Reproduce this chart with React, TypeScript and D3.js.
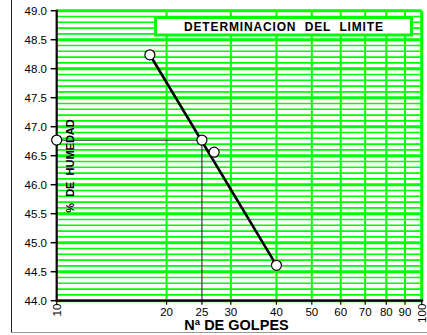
import React from "react";
import * as d3 from "d3";

// Flow test: blows vs. moisture content
const blows = [18, 27, 40];
const moisture = [48.24, 46.56, 44.61];
// Flow line endpoints
const flowBlows = [18, 40];
const flowMoisture = [48.24, 44.61];
// Liquid limit read at 25 blows
const llBlows = 25;
const llMoisture = 46.77;

const xTickValues = [10, 20, 25, 30, 40, 50, 60, 70, 80, 90, 100];
const xRotatedTicks = [10, 100];
const xGridValues = [20, 30, 40, 50, 60, 70, 80, 90];
const yTickValues = [44.0, 44.5, 45.0, 45.5, 46.0, 46.5, 47.0, 47.5, 48.0, 48.5, 49.0];

const W = 427;
const H = 335;
const left = 56.7;
const right = 421.7;
const top = 10.7;
const bottom = 300.7;
const FONT = "Arial, 'Liberation Sans', Helvetica, sans-serif";
const GREEN = "#00ff00";

export default function App() {
  const x = d3.scaleLog().domain([10, 100]).range([left, right]);
  const y = d3.scaleLinear().domain([44, 49]).range([bottom, top]);

  const minorY = d3.range(0, 51).map((i) => 44 + i * 0.1);
  const flowLine = d3
    .line<number>()
    .x((_, i) => x(flowBlows[i]))
    .y((d) => y(d));

  const refPath = d3.path();
  refPath.moveTo(x(10), y(llMoisture));
  refPath.lineTo(x(llBlows), y(llMoisture));
  refPath.lineTo(x(llBlows), y(44));

  return (
    <svg
      width={W}
      height={H}
      style={{ position: "absolute", left: 0, top: 0, background: "#fff" }}
      fontFamily={FONT}
    >
      {/* outer frame */}
      <line x1={11.5} y1={0} x2={11.5} y2={332.5} stroke="#222" strokeWidth={1} />
      <line x1={11.5} y1={332.5} x2={W} y2={332.5} stroke="#999" strokeWidth={1} />

      {/* horizontal grid */}
      {minorY.map((v, i) => {
        const major = i % 5 === 0;
        return (
          <line
            key={"h" + i}
            x1={left}
            x2={right}
            y1={y(v)}
            y2={y(v)}
            stroke={GREEN}
            strokeWidth={major ? 3 : 1.6}
          />
        );
      })}
      {/* vertical grid */}
      {xGridValues.map((v) => (
        <line key={"v" + v} x1={x(v)} x2={x(v)} y1={top} y2={bottom} stroke={GREEN} strokeWidth={2} />
      ))}
      <line x1={right} x2={right} y1={top} y2={bottom} stroke={GREEN} strokeWidth={3} />

      {/* title box */}
      <rect x={155.5} y={17.5} width={256} height={17.5} fill="#fff" stroke={GREEN} strokeWidth={3} />
      <text
        x={283.5}
        y={30.5}
        textAnchor="middle"
        fontSize={12}
        fontWeight="bold"
        textLength={199}
        lengthAdjust="spacing"
        fill="#000"
        style={{ whiteSpace: "pre" }}
      >
        DETERMINACION  DEL  LIMITE
      </text>

      {/* liquid limit reference lines */}
      <path d={refPath.toString()} fill="none" stroke="#333" strokeWidth={1.2} />

      {/* flow line */}
      <path d={flowLine(flowMoisture) || ""} fill="none" stroke="#000" strokeWidth={2.6} />

      {/* axes */}
      <line x1={left} x2={left} y1={top - 1} y2={bottom + 1} stroke="#000" strokeWidth={2.2} />
      <line x1={left - 1} x2={right + 1.5} y1={bottom} y2={bottom} stroke="#000" strokeWidth={2.2} />
      {yTickValues.map((v) => (
        <g key={"yt" + v}>
          <line x1={left - 6} x2={left} y1={y(v)} y2={y(v)} stroke="#000" strokeWidth={1.5} />
          <text x={47} y={y(v) + 4} textAnchor="end" fontSize={11.5} fill="#000">
            {v.toFixed(1)}
          </text>
        </g>
      ))}
      {xTickValues.map((v) => (
        <g key={"xt" + v}>
          <line x1={x(v)} x2={x(v)} y1={bottom} y2={bottom + 4} stroke="#000" strokeWidth={1.2} />
          {xRotatedTicks.includes(v) ? (
            <text
              transform={`translate(${x(v) + 4},${bottom + 3}) rotate(-90)`}
              textAnchor="end"
              fontSize={11.5}
              fill="#000"
            >
              {v}
            </text>
          ) : (
            <text x={x(v)} y={bottom + 15} textAnchor="middle" fontSize={11.5} fill="#000">
              {v}
            </text>
          )}
        </g>
      ))}

      {/* markers */}
      {blows.map((b, i) => (
        <circle key={"p" + i} cx={x(b)} cy={y(moisture[i])} r={5} fill="#fff" stroke="#000" strokeWidth={1.2} />
      ))}
      <circle cx={x(llBlows)} cy={y(llMoisture)} r={5} fill="#fff" stroke="#000" strokeWidth={1.2} />
      <circle cx={x(10)} cy={y(llMoisture)} r={5} fill="#fff" stroke="#000" strokeWidth={1.2} />

      {/* axis titles */}
      <text
        transform={`translate(74,166) rotate(-90)`}
        textAnchor="middle"
        fontSize={11}
        fontWeight="bold"
        fill="#000"
        style={{ whiteSpace: "pre" }}
      >
        %  DE  HUMEDAD
      </text>
      <text x={236.5} y={330} textAnchor="middle" fontSize={14.5} fontWeight="bold" fill="#000">
        Nª DE GOLPES
      </text>
    </svg>
  );
}
